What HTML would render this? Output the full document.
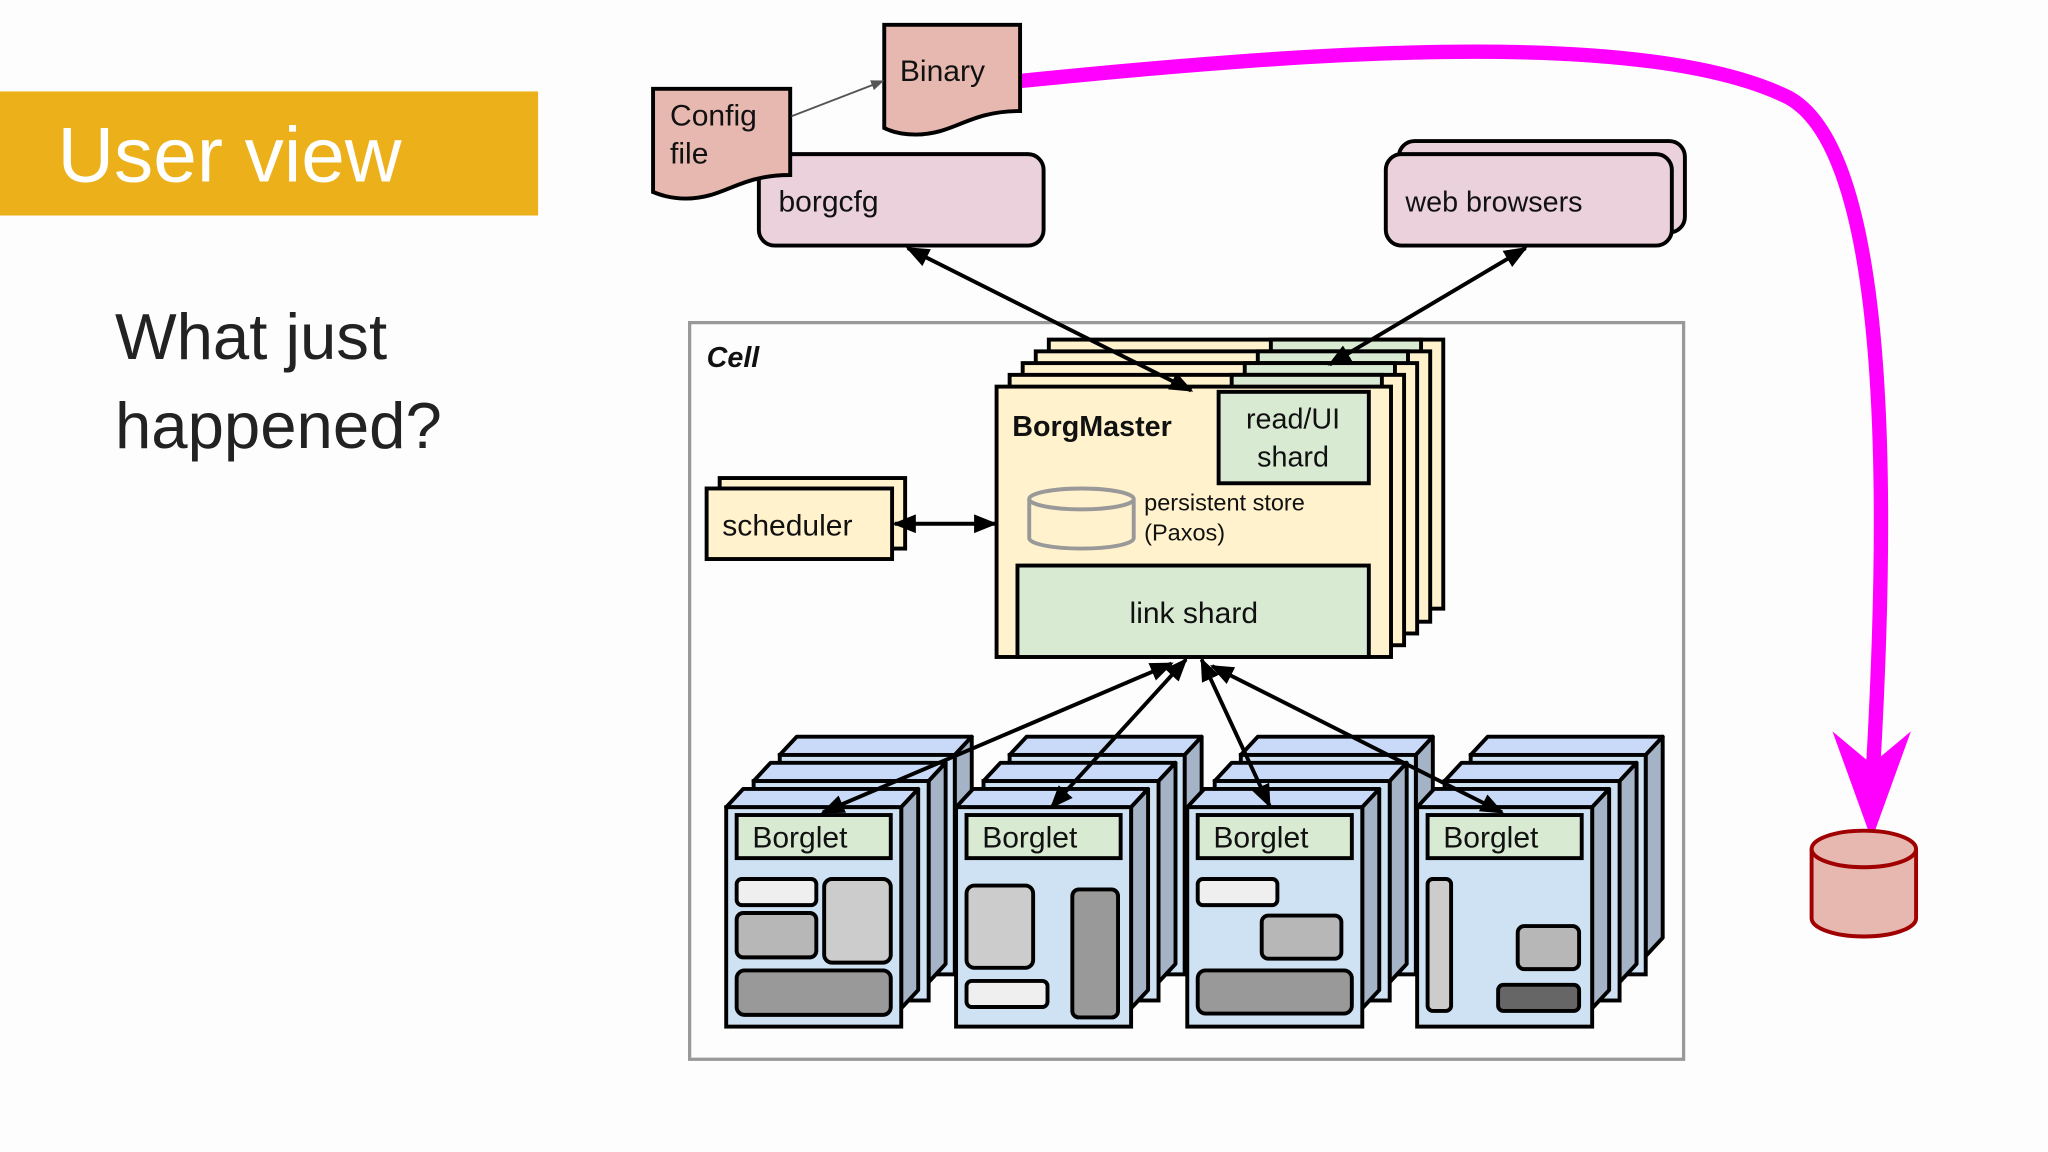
<!DOCTYPE html>
<html><head><meta charset="utf-8"><style>
html,body{margin:0;padding:0;background:#fdfdfd;}
svg{display:block;}
text{font-family:"Liberation Sans",sans-serif;fill:#111;}
</style></head><body>
<svg width="2048" height="1152" viewBox="0 0 1568 882" xmlns="http://www.w3.org/2000/svg">
<defs>
<marker id="ah" viewBox="0 0 10 10" refX="9" refY="5" markerWidth="7" markerHeight="7" orient="auto-start-reverse" markerUnits="userSpaceOnUse"><path d="M0,0 L10,5 L0,10 z" fill="#000"/></marker>
<marker id="ahb" viewBox="0 0 10 10" refX="9" refY="5" markerWidth="18" markerHeight="18" orient="auto-start-reverse" markerUnits="userSpaceOnUse"><path d="M0,1 L10,5 L0,9 z" fill="#000"/></marker>
<marker id="ahs" viewBox="0 0 10 10" refX="9" refY="5" markerWidth="10" markerHeight="10" orient="auto" markerUnits="userSpaceOnUse"><path d="M0,1 L10,5 L0,9 z" fill="#555"/></marker>
<g id="bl">
 <path d="M0,0 h134 l13,-14 h-134 z" fill="#c9daf8" stroke="#000" stroke-width="3" stroke-linejoin="round"/>
 <path d="M134,0 l13,-14 v154 l-13,14 z" fill="#a4b3c6" stroke="#000" stroke-width="3" stroke-linejoin="round"/>
 <rect x="0" y="0" width="134" height="168" fill="#cfe2f3" stroke="#000" stroke-width="3"/>
</g>
</defs>
<rect width="1568" height="882" fill="#fdfdfd"/>
<rect x="0" y="70" width="412" height="95" fill="#ecb11a"/>
<text x="44" y="139" style="font-size:60px;fill:#fff">User view</text>
<text x="88" y="275" style="font-size:50px;fill:#222">What just</text>
<text x="88" y="343" style="font-size:50px;fill:#222">happened?</text>

<!-- magenta -->
<path d="M781,62 C1000,40 1260,20 1370,75 C1450,120 1445,400 1434,590" fill="none" stroke="#ff00ff" stroke-width="11"/>
<polygon points="1403,560 1433,585 1463,560 1433,643" fill="#ff00ff"/>
<g stroke="#a00000" stroke-width="3" fill="#e6b8af">
<path d="M1387,650 v53 a40,14 0 0 0 80,0 v-53"/>
<ellipse cx="1427" cy="650" rx="40" ry="14"/>
</g>

<!-- borgcfg -->
<rect x="581" y="118" width="218" height="70" rx="12" fill="#ead1dc" stroke="#000" stroke-width="3"/>
<text x="596" y="162" style="font-size:23px">borgcfg</text>
<!-- config doc -->
<path d="M500,68 h105 v66 c-40,0 -50,18 -80,18 c-12,0 -20,-3 -25,-5 z" fill="#e6b8af" stroke="#000" stroke-width="3"/>
<text x="513" y="96" style="font-size:23px">Config</text>
<text x="513" y="125" style="font-size:23px">file</text>
<path d="M677,19 h104 v66 c-40,0 -50,18 -80,18 c-12,0 -20,-3 -24,-5 z" fill="#e6b8af" stroke="#000" stroke-width="3"/>
<text x="689" y="62" style="font-size:23px">Binary</text>
<line x1="606" y1="89" x2="676" y2="62" stroke="#555" stroke-width="1.5" marker-end="url(#ahs)"/>

<!-- web browsers -->
<rect x="1071" y="108" width="219" height="70" rx="12" fill="#ead1dc" stroke="#000" stroke-width="3"/>
<rect x="1061" y="118" width="219" height="70" rx="12" fill="#ead1dc" stroke="#000" stroke-width="3"/>
<text x="1076" y="162" style="font-size:22px">web browsers</text>

<!-- cell -->
<rect x="528" y="247" width="761" height="564" fill="none" stroke="#999" stroke-width="2.5"/>
<text x="541" y="281" style="font-size:22px;font-weight:bold;font-style:italic">Cell</text>

<!-- borgmaster layers -->
<g stroke="#000" stroke-width="3">
<rect x="803" y="260" width="302" height="206" fill="#fff2cc"/><rect x="973" y="260" width="115" height="60" fill="#d9ead3"/>
<rect x="793" y="269" width="302" height="207" fill="#fff2cc"/><rect x="963" y="269" width="115" height="60" fill="#d9ead3"/>
<rect x="783" y="278" width="302" height="207" fill="#fff2cc"/><rect x="953" y="278" width="115" height="60" fill="#d9ead3"/>
<rect x="773" y="287" width="302" height="207" fill="#fff2cc"/><rect x="943" y="287" width="115" height="60" fill="#d9ead3"/>
<rect x="763" y="296" width="302" height="207" fill="#fff2cc"/>
<rect x="933" y="300" width="115" height="70" fill="#d9ead3"/>
<rect x="779" y="433" width="269" height="70" fill="#d9ead3"/>
</g>
<text x="775" y="334" style="font-size:22px;font-weight:bold">BorgMaster</text>
<text x="990" y="328" text-anchor="middle" style="font-size:22px">read/UI</text>
<text x="990" y="357" text-anchor="middle" style="font-size:22px">shard</text>
<text x="914" y="477" text-anchor="middle" style="font-size:23px">link shard</text>
<g stroke="#999" stroke-width="3" fill="#fff2cc">
<path d="M788,382 v30 a40,8 0 0 0 80,0 v-30"/>
<ellipse cx="828" cy="382" rx="40" ry="8"/>
</g>
<text x="876" y="391" style="font-size:18px">persistent store</text>
<text x="876" y="414" style="font-size:18px">(Paxos)</text>

<!-- scheduler -->
<rect x="551" y="366" width="142" height="54" fill="#fff2cc" stroke="#000" stroke-width="3"/>
<rect x="541" y="374" width="142" height="54" fill="#fff2cc" stroke="#000" stroke-width="3"/>
<text x="553" y="410" style="font-size:23px">scheduler</text>

<!-- borglets -->
<g>
<use href="#bl" x="597" y="578"/><use href="#bl" x="577" y="598"/><use href="#bl" x="556" y="618"/>
<use href="#bl" x="773" y="578"/><use href="#bl" x="753" y="598"/><use href="#bl" x="732" y="618"/>
<use href="#bl" x="950" y="578"/><use href="#bl" x="930" y="598"/><use href="#bl" x="909" y="618"/>
<use href="#bl" x="1126" y="578"/><use href="#bl" x="1106" y="598"/><use href="#bl" x="1085" y="618"/>
</g>
<g stroke="#000" stroke-width="3">
<rect x="564" y="624" width="118" height="33" fill="#d9ead3"/>
<rect x="740" y="624" width="118" height="33" fill="#d9ead3"/>
<rect x="917" y="624" width="118" height="33" fill="#d9ead3"/>
<rect x="1093" y="624" width="118" height="33" fill="#d9ead3"/>
</g>
<text x="576" y="649" style="font-size:23px">Borglet</text>
<text x="752" y="649" style="font-size:23px">Borglet</text>
<text x="929" y="649" style="font-size:23px">Borglet</text>
<text x="1105" y="649" style="font-size:23px">Borglet</text>
<g stroke="#000" stroke-width="3">
<rect x="564" y="673" width="61" height="20" rx="4" fill="#efefef"/>
<rect x="564" y="699" width="61" height="34" rx="5" fill="#b7b7b7"/>
<rect x="631" y="673" width="51" height="64" rx="6" fill="#cccccc"/>
<rect x="564" y="743" width="118" height="34" rx="6" fill="#999"/>
<rect x="740" y="678" width="51" height="63" rx="6" fill="#cccccc"/>
<rect x="740" y="751" width="62" height="20" rx="4" fill="#efefef"/>
<rect x="821" y="681" width="35" height="98" rx="5" fill="#999"/>
<rect x="917" y="673" width="61" height="20" rx="4" fill="#efefef"/>
<rect x="966" y="701" width="61" height="33" rx="5" fill="#b7b7b7"/>
<rect x="917" y="743" width="118" height="33" rx="6" fill="#999"/>
<rect x="1093" y="673" width="18" height="101" rx="4" fill="#cccccc"/>
<rect x="1162" y="709" width="47" height="33" rx="5" fill="#b7b7b7"/>
<rect x="1147" y="754" width="62" height="20" rx="4" fill="#666"/>
</g>

<!-- arrows -->
<g stroke="#000" stroke-width="3" fill="none">
<line x1="695" y1="190" x2="912" y2="299" marker-start="url(#ahb)" marker-end="url(#ahb)"/>
<line x1="1168" y1="190" x2="1018" y2="279" marker-start="url(#ahb)" marker-end="url(#ahb)"/>
<line x1="685" y1="401" x2="762" y2="401" marker-start="url(#ahb)" marker-end="url(#ahb)"/>
<line x1="897" y1="508" x2="630" y2="622" marker-start="url(#ahb)" marker-end="url(#ahb)"/>
<line x1="908" y1="505" x2="805" y2="618" marker-start="url(#ahb)" marker-end="url(#ahb)"/>
<line x1="920" y1="505" x2="972" y2="617" marker-start="url(#ahb)" marker-end="url(#ahb)"/>
<line x1="928" y1="510" x2="1150" y2="622" marker-start="url(#ahb)" marker-end="url(#ahb)"/>
</g>
</svg>
</body></html>
